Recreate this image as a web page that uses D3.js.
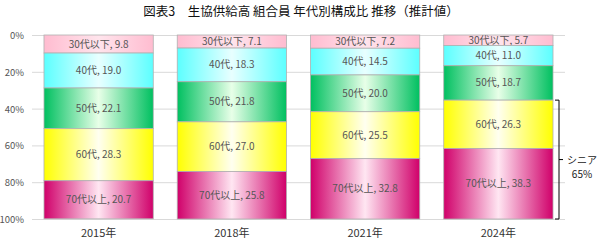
<!DOCTYPE html>
<html>
<head>
<meta charset="utf-8">
<script src="https://cdn.jsdelivr.net/npm/d3@7"></script>
<style>
  body { margin: 0; background: #fff; }
  text { font-family: "Noto Sans CJK JP", "Noto Sans", sans-serif; }
</style>
</head>
<body>
<script>
// data
var years = ["2015年", "2018年", "2021年", "2024年"];
var groups = ["30代以下", "40代", "50代", "60代", "70代以上"];
var under30 = [9.8, 7.1, 7.2, 5.7];
var age40 = [19.0, 18.3, 14.5, 11.0];
var age50 = [22.1, 21.8, 20.0, 18.7];
var age60 = [28.3, 27.0, 25.5, 26.3];
var over70 = [20.7, 25.8, 32.8, 38.3];
var yTicks = [0, 20, 40, 60, 80, 100];

var seriesVals = [under30, age40, age50, age60, over70];
// edge / centre colours of each horizontal gradient
var edgeCol = ["#ffbcd0", "#5cffff", "#00c060", "#ffff00", "#d0006a"];
var midCol = ["#ffe4ec", "#e8ffff", "#e8ffe8", "#fffff0", "#ffe6f2"];

var w = 602, h = 241;
var svg = d3.select("body").append("svg").attr("width", w).attr("height", h);

var x = d3.scaleBand().domain(years).range([32, 565]).paddingInner(0.18).paddingOuter(0.09);
var y = d3.scaleLinear().domain([0, 100]).range([35, 219]);

// gradients
var defs = svg.append("defs");
groups.forEach(function(g, i) {
  var grad = defs.append("linearGradient").attr("id", "g" + i)
    .attr("x1", "0%").attr("x2", "100%").attr("y1", "0%").attr("y2", "0%");
  grad.append("stop").attr("offset", "0%").attr("stop-color", edgeCol[i]);
  grad.append("stop").attr("offset", "50%").attr("stop-color", midCol[i]);
  grad.append("stop").attr("offset", "100%").attr("stop-color", edgeCol[i]);
});

// title
svg.append("text").attr("x", 301).attr("y", 16).attr("text-anchor", "middle")
  .attr("font-size", "12.5px").attr("fill", "#111")
  .text("図表3　生協供給高 組合員 年代別構成比 推移（推計値）");

// grid + y axis
svg.append("g").selectAll("line").data(yTicks).enter().append("line")
  .attr("x1", 32).attr("x2", 565)
  .attr("y1", function(d) { return y(d) + 0.5; })
  .attr("y2", function(d) { return y(d) + 0.5; })
  .attr("stroke", "#d9d9d9");
svg.append("g").selectAll("text").data(yTicks).enter().append("text")
  .attr("x", 24).attr("y", function(d) { return y(d) + 4; })
  .attr("text-anchor", "end").attr("font-size", "9.5px").attr("fill", "#555")
  .text(function(d) { return d + "%"; });

// stacked segments
var rows = [];
years.forEach(function(yr, j) {
  var acc = 0;
  seriesVals.forEach(function(vals, i) {
    rows.push({ year: yr, idx: i, v: vals[j], y0: acc, y1: acc + vals[j] });
    acc += vals[j];
  });
});

var seg = svg.append("g").selectAll("g").data(rows).enter().append("g");
seg.append("rect")
  .attr("x", function(d) { return x(d.year); })
  .attr("y", function(d) { return y(d.y0); })
  .attr("width", x.bandwidth())
  .attr("height", function(d) { return y(d.y1) - y(d.y0); })
  .attr("fill", function(d) { return "url(#g" + d.idx + ")"; })
  .attr("stroke", "#b0b0b0").attr("stroke-width", 0.8);
seg.append("text")
  .attr("x", function(d) { return x(d.year) + x.bandwidth() / 2; })
  .attr("y", function(d) { return (y(d.y0) + y(d.y1)) / 2 + 3.5; })
  .attr("text-anchor", "middle").attr("font-size", "10px").attr("fill", "#555")
  .text(function(d) { return groups[d.idx] + ", " + d.v.toFixed(1); });

// x labels
svg.append("g").selectAll("text").data(years).enter().append("text")
  .attr("x", function(d) { return x(d) + x.bandwidth() / 2; })
  .attr("y", 237).attr("text-anchor", "middle")
  .attr("font-size", "11px").attr("fill", "#333")
  .text(function(d) { return d; });

// bracket for senior share (60代 + 70代以上) of the last year
var last = years.length - 1;
var seniorTop = 100 - age60[last] - over70[last];
var bx = 559;
var by0 = y(seniorTop), by1 = y(100), bm = (by0 + by1) / 2;
svg.append("path")
  .attr("d", "M" + (bx - 4) + "," + by0 + "H" + bx + "V" + by1 + "H" + (bx - 4) +
    "M" + bx + "," + bm + "H" + (bx + 4))
  .attr("fill", "none").attr("stroke", "#000").attr("stroke-width", 1);
svg.append("text").attr("x", 582).attr("y", bm + 4).attr("text-anchor", "middle")
  .attr("font-size", "10px").attr("fill", "#222").text("シニア");
svg.append("text").attr("x", 582).attr("y", bm + 18).attr("text-anchor", "middle")
  .attr("font-size", "10px").attr("fill", "#222")
  .text(Math.round(age60[last] + over70[last]) + "%");
</script>
</body>
</html>
